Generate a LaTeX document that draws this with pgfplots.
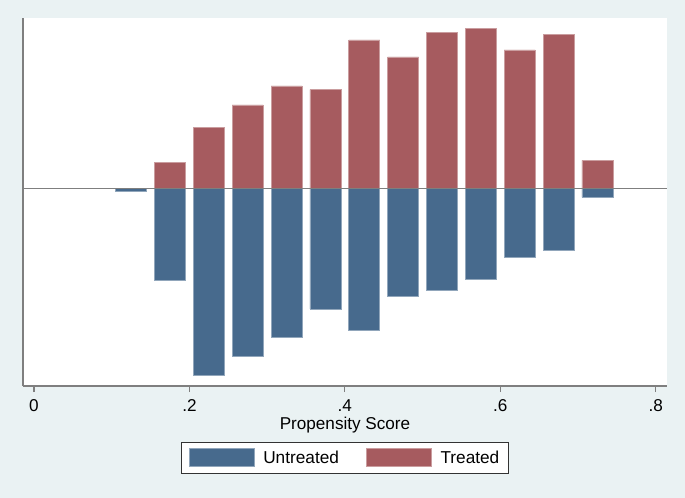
\documentclass[border=0pt]{standalone}
\usepackage{fontspec}
\setmainfont{Liberation Sans}
\usepackage{pgfplots}
\pgfplotsset{compat=1.18}

\definecolor{bgstata}{HTML}{EAF2F3}
\definecolor{untreated}{HTML}{476A8D}
\definecolor{treated}{HTML}{A65B5F}
\definecolor{axisgray}{HTML}{7F7F7F}

\begin{document}
\begin{tikzpicture}[x=1bp,y=1bp]
  \fill[bgstata] (-23bp,-112bp) rectangle (662bp,386bp);
  \begin{axis}[%
    scale only axis,
    width=644bp, height=368bp,
    font=\fontsize{17.2}{20}\selectfont,
    axis background/.style={fill=white},
    % x-axis
    xmin=-0.01416, xmax=0.8146,
    xtick={0,0.2,0.4,0.6,0.8},
    xticklabels={0,.2,.4,.6,.8},
    xticklabel style={yshift=-4bp},
    tick align=outside,
    major tick length=6bp,
    xtick style={axisgray, line width=1.2bp},
    xlabel={Propensity Score},
    every axis x label/.style={at={(axis description cs:0.5,0)}, anchor=center, yshift=-39bp},
    % y-axis
    ymin=-197.5, ymax=170.5,
    ytick=\empty,
    axis x line*=bottom,
    axis y line*=left,
    axis line style={-, axisgray, line width=1.5bp},
    % bars
    ybar, bar width=0.0399, bar shift=0pt,
    % legend
    legend columns=2,
    legend image code/.code={\fill[#1] (0bp,-9bp) rectangle (65bp,9bp);},
    legend style={at={(axis description cs:0.5,0)}, anchor=north, yshift=-56bp,
      draw=black!80, fill=white, line width=0.8bp,
      inner xsep=7bp, inner ysep=6bp,
      font=\fontsize{17.3}{20}\selectfont,
      /tikz/every odd column/.append style={column sep=7bp},
      /tikz/every even column/.append style={column sep=25bp}},
    ]

    \addplot[fill=untreated, draw=untreated!60!white, line width=0.6bp] coordinates {
      (0.125,-2.6) (0.175,-91.5) (0.225,-186.5) (0.275,-168.2) (0.325,-148.5)
      (0.375,-120.5) (0.425,-141.8) (0.475,-107.5) (0.525,-101.5) (0.575,-90.8)
      (0.625,-69.2) (0.675,-62.2) (0.725,-8.8)
    };
    \addlegendentry{Untreated}

    \addplot[fill=treated, draw=treated!60!white, line width=0.6bp] coordinates {
      (0.175,25.8) (0.225,61.2) (0.275,83.5) (0.325,102.5)
      (0.375,98.8) (0.425,148.5) (0.475,131.5) (0.525,155.8) (0.575,159.8)
      (0.625,138.5) (0.675,153.8) (0.725,28.2)
    };
    \addlegendentry{Treated}

    \draw[axisgray, line width=1.2bp] (axis cs:-0.01416,0) -- (axis cs:0.8146,0);
  \end{axis}
  \pgfresetboundingbox
  \path (-23bp,-112bp) rectangle (662bp,386bp);
\end{tikzpicture}
\end{document}
